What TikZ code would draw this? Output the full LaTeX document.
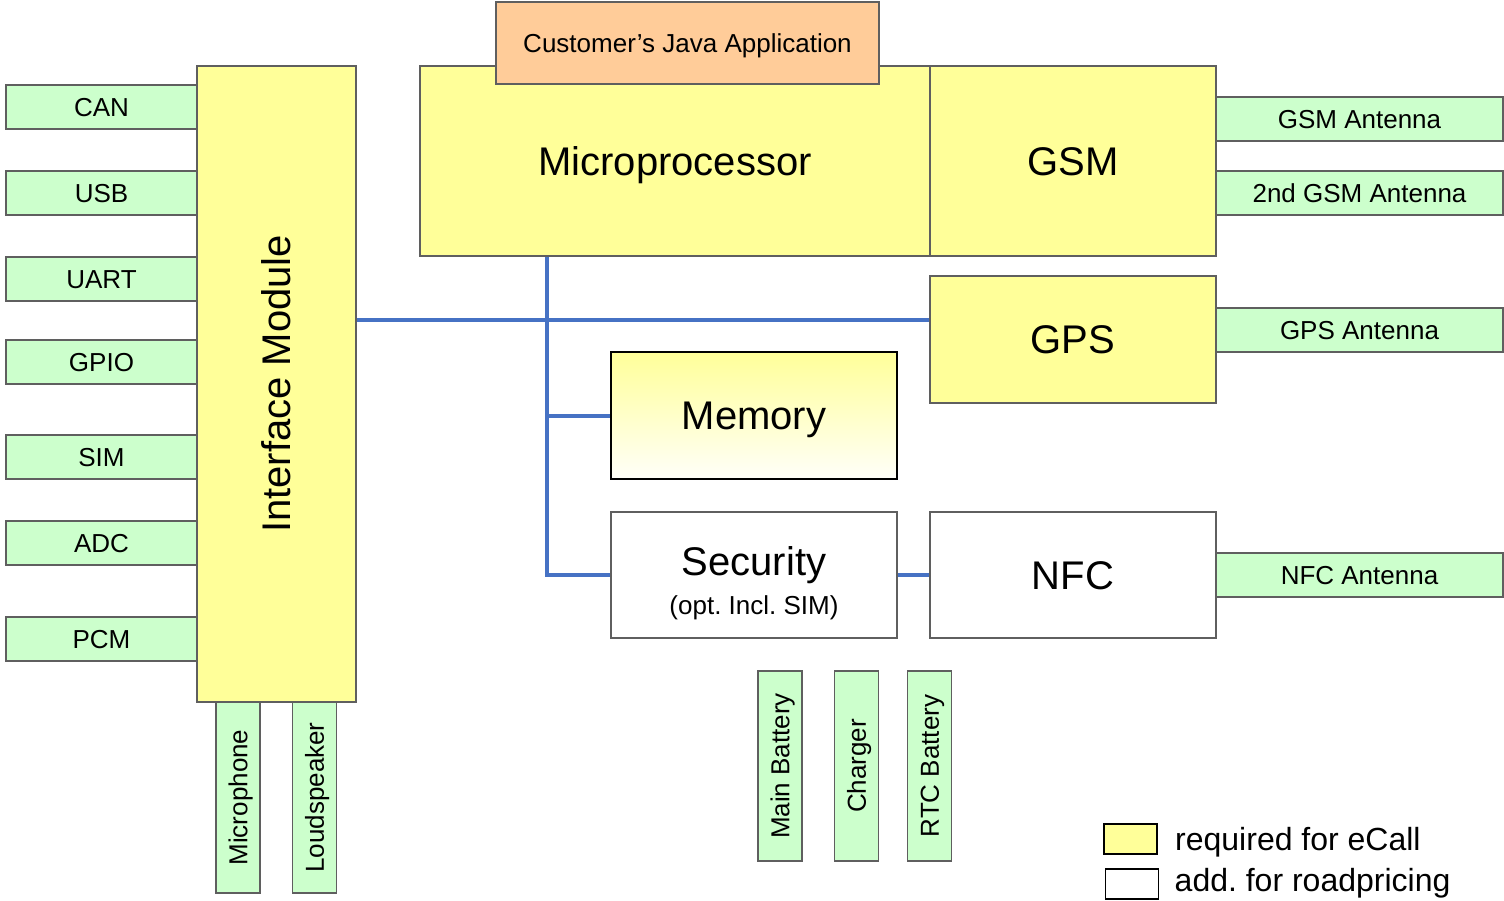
\documentclass[tikz,border=0pt]{standalone}
\usepackage{fontspec}
\setmainfont{Liberation Sans}
\usepackage{tikz}
\usetikzlibrary{positioning}
\definecolor{BoxYellow}{RGB}{255,255,153}
\definecolor{BoxGreen}{RGB}{204,255,204}
\definecolor{BoxOrange}{RGB}{255,204,153}
\definecolor{BoxEdge}{RGB}{95,95,95}
\definecolor{BusBlue}{RGB}{70,114,196}
\tikzset{
	bigtext/.style={font=\fontsize{20}{24}\selectfont, text height=14.3pt, text depth=0pt},
	smalltext/.style={font=\fontsize{13}{15}\selectfont, text height=9.3pt, text depth=0pt},
	legendtext/.style={inner sep=0pt, font=\fontsize{16}{19}\selectfont, text height=11.5pt, text depth=0pt},
	block/.style={draw=BoxEdge, line width=0.6pt, inner sep=0pt, bigtext},
	core/.style={block, fill=BoxYellow},
	extra/.style={block, fill=white},
	port/.style={block, fill=BoxGreen, minimum width=95.5pt, minimum height=22pt, smalltext},
	antenna/.style={port, minimum width=143.5pt},
	bus/.style={draw=BusBlue, line width=2pt},
}

\begin{document}
\frenchspacing
\begin{tikzpicture}[x=0.5pt, y=-0.5pt]
	\useasboundingbox (0,0) rectangle (1504,900);

	% interface module with its ports
	\node [core, rotate=90, minimum width=318pt, minimum height=79.5pt] (iface) at (276.5,384) {Interface Module};
	\node [port] (can) at (101.5,107) {CAN};
	\node [port] (usb) at (101.5,193) {USB};
	\node [port] (uart) at (101.5,279) {UART};
	\node [port] (gpio) at (101.5,362) {GPIO};
	\node [port] (sim) at (101.5,457) {SIM};
	\node [port] (adc) at (101.5,543) {ADC};
	\node [port] (pcm) at (101.5,639) {PCM};
	\node [port, rotate=90] (mic) at (238,797.5) {Microphone};
	\node [port, rotate=90] (speaker) at (314.5,797.5) {Loudspeaker};

	% processor, radio parts
	\node [core, minimum width=255pt, minimum height=95pt] (mcu) at (675,161) {Microprocessor};
	\node [block, fill=BoxOrange, minimum width=191.5pt, minimum height=41pt, smalltext] (java) at (687.5,43) {Customer's Java Application};
	\node [core, minimum width=143pt, minimum height=95pt] (gsm) at (1073,161) {GSM};
	\node [core, minimum width=143pt, minimum height=63.5pt] (gps) at (1073,339.5) {GPS};
	\node [antenna] (gsmant) at (1359.5,119) {GSM Antenna};
	\node [antenna] (gsmant2) at (1359.5,193) {2nd GSM Antenna};
	\node [antenna] (gpsant) at (1359.5,330) {GPS Antenna};

	% memory, security, nfc
	\node [block, draw=black, line width=1pt, top color=BoxYellow, bottom color=BoxYellow!6, minimum width=143pt, minimum height=63.5pt] (mem) at (754,415.5) {Memory};
	\node [extra, align=center, text height=, text depth=, minimum width=143pt, minimum height=63pt] (sec) at (754,575) {\rule{0pt}{22.6pt}Security\\[-4.5pt]{\fontsize{13}{15}\selectfont (opt. Incl. SIM)}};
	\node [extra, minimum width=143pt, minimum height=63pt] (nfc) at (1073,575) {NFC};
	\node [antenna] (nfcant) at (1359.5,575) {NFC Antenna};

	% power
	\node [port, rotate=90, minimum width=95pt] (mainbat) at (780,766) {Main Battery};
	\node [port, rotate=90, minimum width=95pt] (charger) at (856.5,766) {Charger};
	\node [port, rotate=90, minimum width=95pt] (rtcbat) at (929.5,766) {RTC Battery};

	% bus lines
	\coordinate (tap) at (547,320);
	\draw [bus] (iface.south |- tap) -- (gps.west |- tap); % iface is turned, its south is on the right
	\draw [bus] (mcu.south -| tap) -- (tap |- sec.west) -- (sec.west);
	\draw [bus] (tap |- mem.west) -- (mem.west);
	\draw [bus] (sec.east) -- (nfc.west);

	% legend
	\node [core, draw=black, line width=0.8pt, minimum width=26.5pt, minimum height=15pt] (legcore) at (1130.5,839) {};
	\node [extra, draw=black, line width=0.8pt, minimum width=26.5pt, minimum height=15pt] (legextra) at (1132,884) {};
	\node [right=8.5pt of legcore, legendtext] (legcoretext) {required for eCall};
	\node [right=7.5pt of legextra, legendtext, yshift=2pt] (legextratext) {add. for roadpricing};
\end{tikzpicture}
\end{document}
